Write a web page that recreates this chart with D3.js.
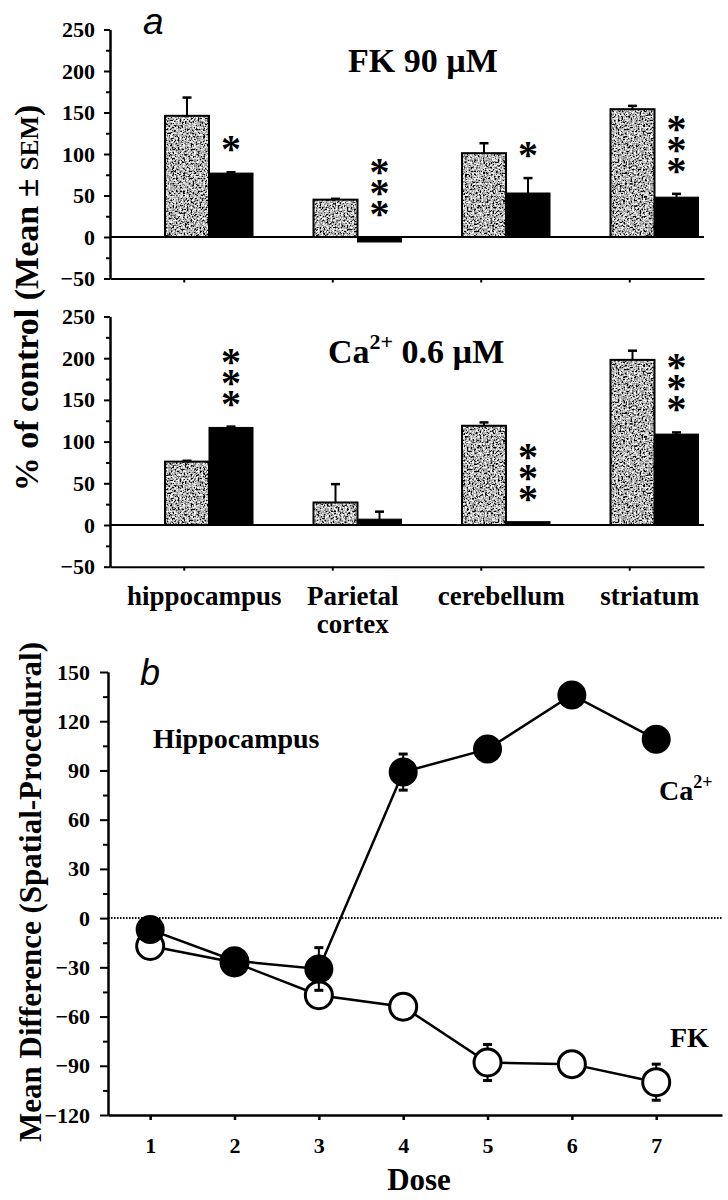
<!DOCTYPE html>
<html><head><meta charset="utf-8">
<script src="https://cdn.jsdelivr.net/npm/d3@7"></script>
<style>
body{margin:0;background:#fff;}
svg{display:block;}
text{font-family:"Liberation Serif","Times New Roman",serif;font-weight:bold;fill:#000;}
</style></head>
<body>
<script>
// ---------- DATA ----------
const regions = ["hippocampus", "Parietal cortex", "cerebellum", "striatum"];
const regionLabels = [["hippocampus"], ["Parietal", "cortex"], ["cerebellum"], ["striatum"]];
const barTicks = [-50, 0, 50, 100, 150, 200, 250];

// Panel a, FK 90 µM
const fkControl = [146, 45, 101, 154];
const fkControlErr = [22, 1, 12, 4];
const fkTreated = [77, -6, 53, 48];
const fkTreatedErr = [1, 0, 18, 4];
const fkStars = [1, 3, 1, 3];

// Panel a, Ca2+ 0.6 µM
const caControl = [76, 27, 119, 198];
const caControlErr = [1, 22, 4, 11];
const caTreated = [117, 7, 4, 109];
const caTreatedErr = [1, 9, 0, 2];
const caStars = [3, 0, 3, 3];

// Panel b
const doses = [1, 2, 3, 4, 5, 6, 7];
const caDiff = [-7, -26, -31, 89, 103, 136, 109];
const caDiffErr = [0, 0, 13, 11, 0, 0, 0];
const fkDiff = [-17, -27, -47, -54, -88, -89, -100];
const fkDiffErr = [0, 0, 0, 0, 11, 0, 11];
const diffTicks = [-120, -90, -60, -30, 0, 30, 60, 90, 120, 150];

const SERIF = "'Liberation Serif','Times New Roman',serif";

// ---------- SVG ----------
const svg = d3.select("body").append("svg").attr("width", 728).attr("height", 1200);
const defs = svg.append("defs");
const flt = defs.append("filter").attr("id", "noise").attr("x", 0).attr("y", 0).attr("width", "100%").attr("height", "100%");
flt.append("feTurbulence").attr("type", "fractalNoise").attr("baseFrequency", 0.55).attr("numOctaves", 2).attr("seed", 4).attr("result", "t");
flt.append("feColorMatrix").attr("in", "t").attr("type", "matrix")
  .attr("values", "2.8 0 0 0 -0.95  2.8 0 0 0 -0.95  2.8 0 0 0 -0.95  0 0 0 0 1");
const pat = defs.append("pattern").attr("id", "stipple").attr("patternUnits", "userSpaceOnUse").attr("width", 120).attr("height", 120);
pat.append("rect").attr("width", 120).attr("height", 120).attr("fill", "#999").attr("filter", "url(#noise)");

const x0 = d3.scaleBand().domain(regions).range([110, 704]);
const x1 = d3.scaleBand().domain(["control", "treated"]).range([55, 143]);

function styleAxis(g, w) {
  g.attr("font-family", SERIF).attr("font-size", 22).attr("font-weight", "bold");
  g.selectAll("path,line").attr("stroke", "#000").attr("stroke-width", w);
  g.selectAll("text").attr("font-family", SERIF).attr("font-weight", "bold")
    .style("font-family", SERIF).style("font-size", "22px").style("font-weight", "bold");
}

function barPanel(yRange, control, controlErr, treated, treatedErr, stars) {
  const y = d3.scaleLinear().domain([-50, 250]).range(yRange);
  const g = svg.append("g");
  const minor = d3.range(-25, 250, 50);
  const gm = g.append("g").attr("transform", "translate(110,0)")
    .call(d3.axisLeft(y).tickValues(minor).tickSize(4).tickSizeOuter(0).tickFormat(""));
  styleAxis(gm, 2);
  const ga = g.append("g").attr("transform", "translate(110,0)")
    .call(d3.axisLeft(y).tickValues(barTicks).tickSize(6).tickSizeOuter(0).tickPadding(9).tickFormat(d3.format("d")));
  styleAxis(ga, 2);
  const gx = g.append("g").attr("transform", `translate(0,${y(-50)})`)
    .call(d3.axisBottom(x0).tickSize(4).tickSizeOuter(0).tickFormat(""));
  styleAxis(gx, 2);
  regions.forEach((r, i) => {
    const bx = x0(r);
    const cw = x1.bandwidth();
    const cv = control[i];
    g.append("rect").attr("x", bx + x1("control")).attr("y", y(Math.max(0, cv)))
      .attr("width", cw).attr("height", Math.abs(y(cv) - y(0)))
      .attr("fill", "url(#stipple)").attr("stroke", "#000").attr("stroke-width", 2);
    const tv = treated[i];
    g.append("rect").attr("x", bx + x1("treated")).attr("y", y(Math.max(0, tv)))
      .attr("width", cw).attr("height", Math.abs(y(tv) - y(0)))
      .attr("fill", "#000").attr("stroke", "#000").attr("stroke-width", 1);
    [[cv, controlErr[i], "control"], [tv, treatedErr[i], "treated"]].forEach(([v, e, k]) => {
      if (e <= 0) return;
      const cx = bx + x1(k) + cw / 2;
      g.append("line").attr("x1", cx).attr("x2", cx).attr("y1", y(v)).attr("y2", y(v + e))
        .attr("stroke", "#000").attr("stroke-width", 2);
      g.append("line").attr("x1", cx - 4.5).attr("x2", cx + 4.5).attr("y1", y(v + e)).attr("y2", y(v + e))
        .attr("stroke", "#000").attr("stroke-width", 2.5);
    });
    // significance stars: one vertical text per stack
    if (stars[i] > 0) {
      const top = Math.min(y(0), y(tv + treatedErr[i]), y(tv));
      const sx = bx + x1("treated") + cw / 2;
      const n = stars[i];
      g.append("text").attr("class", "stars")
        .attr("x", sx).attr("y", top - 25)
        .attr("text-anchor", "end")
        .style("writing-mode", "vertical-rl").style("text-orientation", "upright")
        .style("font-size", "40px").style("letter-spacing", "-24px")
        .text("*".repeat(n));
    }
  });
  g.append("line").attr("x1", 110).attr("x2", 704).attr("y1", y(0)).attr("y2", y(0))
    .attr("stroke", "#000").attr("stroke-width", 2);
  return {g, y};
}

const pA = barPanel([278.5, 29.5], fkControl, fkControlErr, fkTreated, fkTreatedErr, fkStars);
pA.g.append("text").attr("x", 348).attr("y", 72).style("font-size", "34px").text("FK 90 µM");

const pB = barPanel([566.7, 316.5], caControl, caControlErr, caTreated, caTreatedErr, caStars);
const t2 = pB.g.append("text").attr("x", 328).attr("y", 363).style("font-size", "34px");
t2.append("tspan").text("Ca");
t2.append("tspan").attr("dy", -14).style("font-size", "22px").text("2+");
t2.append("tspan").attr("dy", 14).text(" 0.6 µM");

regions.forEach((r, i) => {
  const cx = x0(r) + x0.bandwidth() / 2 + 20;
  regionLabels[i].forEach((line, j) => {
    svg.append("text").attr("x", cx).attr("y", 605 + j * 28).attr("text-anchor", "middle")
      .style("font-size", "27px").text(line);
  });
});

svg.append("text").attr("x", 143).attr("y", 34)
  .style("font-family", "'Liberation Sans',Arial,sans-serif").style("font-weight", "normal").style("font-style", "italic")
  .style("font-size", "37px").text("a");

const yt = svg.append("text").attr("transform", "translate(38,298) rotate(-90)").attr("text-anchor", "middle")
  .style("font-size", "34px");
yt.append("tspan").text("% of control (Mean ± ");
yt.append("tspan").style("font-size", "25px").text("SEM");
yt.append("tspan").text(")");

// ---------- Panel b ----------
const xL = d3.scaleLinear().domain([0.5, 7.78]).range([108, 722]);
const yL = d3.scaleLinear().domain([-120, 150]).range([1115, 672]);
const gb = svg.append("g");
const gbm = gb.append("g").attr("transform", "translate(108,0)")
  .call(d3.axisLeft(yL).tickValues(d3.range(-105, 150, 30)).tickSize(5).tickSizeOuter(0).tickFormat(""));
styleAxis(gbm, 2);
const gby = gb.append("g").attr("transform", "translate(108,0)")
  .call(d3.axisLeft(yL).tickValues(diffTicks).tickSize(8).tickSizeOuter(0).tickPadding(10).tickFormat(d3.format("d")));
styleAxis(gby, 2);
const gbx = gb.append("g").attr("transform", "translate(0,1115)")
  .call(d3.axisBottom(xL).tickValues(doses).tickSize(5).tickSizeOuter(0).tickPadding(17).tickFormat(d3.format("d")));
styleAxis(gbx, 2.5);

gb.append("line").attr("x1", 108).attr("x2", 722).attr("y1", yL(0)).attr("y2", yL(0))
  .attr("stroke", "#000").attr("stroke-width", 2).attr("stroke-dasharray", "1.5,1.5");

const line = d3.line().x(d => xL(d[0])).y(d => yL(d[1]));
const fkPts = doses.map((d, i) => [d, fkDiff[i], fkDiffErr[i]]);
const caPts = doses.map((d, i) => [d, caDiff[i], caDiffErr[i]]);

function drawSeries(pts, filled) {
  gb.append("path").datum(pts).attr("d", line).attr("fill", "none").attr("stroke", "#000").attr("stroke-width", 2.5);
  pts.forEach(p => {
    if (p[2] > 0) {
      const cx = xL(p[0]);
      gb.append("line").attr("x1", cx).attr("x2", cx).attr("y1", yL(p[1] - p[2])).attr("y2", yL(p[1] + p[2]))
        .attr("stroke", "#000").attr("stroke-width", 2);
      [p[1] - p[2], p[1] + p[2]].forEach(v => {
        gb.append("line").attr("x1", cx - 4.5).attr("x2", cx + 4.5).attr("y1", yL(v)).attr("y2", yL(v))
          .attr("stroke", "#000").attr("stroke-width", 3);
      });
    }
  });
  gb.selectAll(null).data(pts).enter().append("circle")
    .attr("cx", d => xL(d[0])).attr("cy", d => yL(d[1]))
    .attr("r", filled ? 14.5 : 13.5)
    .attr("fill", filled ? "#000" : "#fff").attr("stroke", "#000").attr("stroke-width", filled ? 0 : 3);
}
drawSeries(fkPts, false);
drawSeries(caPts, true);

gb.append("text").attr("x", 153).attr("y", 748).style("font-size", "28px").text("Hippocampus");
const caL = gb.append("text").attr("x", 659).attr("y", 800).style("font-size", "28px");
caL.append("tspan").text("Ca");
caL.append("tspan").attr("dy", -12).style("font-size", "18px").text("2+");
gb.append("text").attr("x", 670).attr("y", 1047).style("font-size", "28px").text("FK");
gb.append("text").attr("x", 419).attr("y", 1190).attr("text-anchor", "middle").style("font-size", "31px").text("Dose");

svg.append("text").attr("x", 140).attr("y", 685)
  .style("font-family", "'Liberation Sans',Arial,sans-serif").style("font-weight", "normal").style("font-style", "italic")
  .style("font-size", "36px").text("b");

svg.append("text").attr("transform", "translate(41,892) rotate(-90)").attr("text-anchor", "middle")
  .style("font-size", "31px").text("Mean Difference (Spatial-Procedural)");
</script>
</body></html>
